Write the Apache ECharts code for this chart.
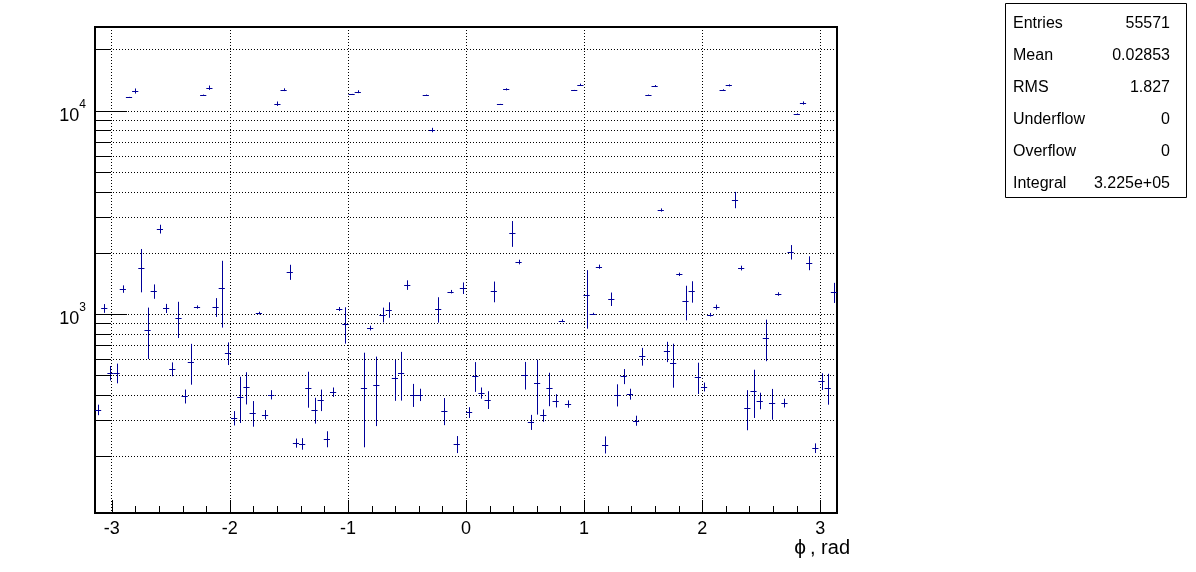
<!DOCTYPE html>
<html><head><meta charset="utf-8">
<script src="https://cdn.jsdelivr.net/npm/echarts@6/dist/echarts.min.js"></script>
<style>html,body{margin:0;padding:0;background:#fff}#c{width:1196px;height:572px}</style>
</head><body><div id="c"></div><script>
// Histogram: 120 bins over [-pi, pi]
const N_BINS = 120;
const PHI_MIN = -Math.PI, PHI_MAX = Math.PI;
const Y_MIN = 105, Y_MAX = 25800;

const counts = [
  338, 1066, 513, 513, 1327, 11630, 12500, 1683, 838, 1293, 2618, 1066,
  536, 955, 394, 581, 1082, 11940, 12975, 1082, 1342, 643, 308, 391,
  438, 326, 1011, 320, 401, 10825, 12685, 1609, 232, 230, 433, 338,
  379, 243, 413, 1058, 897, 12030, 12400, 433, 853, 449, 992, 1050,
  484, 513, 1389, 401, 401, 11940, 8035, 1058, 335, 1288, 229, 1342,
  328, 497, 409, 379, 1293, 10740, 12735, 2502, 1802, 503, 294, 458,
  317, 433, 375, 927, 361, 12590, 13430, 1245, 1004, 1709, 228, 1185,
  401, 494, 404, 299, 619, 11940, 13220, 3247, 655, 574, 1567, 1154,
  1293, 490, 438, 992, 1082, 12685, 13320, 3650, 1683, 345, 420, 375,
  762, 365, 1254, 365, 2018, 9630, 10906, 1782, 219, 467, 433, 1278
];
const errors = [
  20, 53, 42, 57, 56, 60, 360, 405, 237, 105, 130, 55,
  42, 193, 31, 132, 20, 60, 320, 115, 485, 82, 25, 100,
  79, 47, 15, 17, 21, 270, 200, 137, 12, 15, 87, 49,
  46, 22, 22, 24, 182, 60, 200, 212, 23, 168, 83, 92,
  110, 138, 75, 52, 28, 60, 200, 151, 51, 25, 22, 88,
  20, 83, 26, 38, 151, 60, 150, 363, 47, 78, 25, 138,
  22, 81, 28, 15, 15, 60, 150, 398, 10, 40, 22, 90,
  50, 42, 25, 17, 62, 60, 150, 60, 75, 140, 30, 223,
  156, 86, 22, 20, 30, 60, 150, 336, 45, 77, 112, 35,
  176, 63, 25, 18, 165, 60, 200, 140, 12, 44, 75, 145
];

const xMajorTicks = [-3, -2, -1, 0, 1, 2, 3];
const xMinorTicks = [-2.8, -2.6, -2.4, -2.2, -1.8, -1.6, -1.4, -1.2, -0.8, -0.6, -0.4, -0.2,
  0.2, 0.4, 0.6, 0.8, 1.2, 1.4, 1.6, 1.8, 2.2, 2.4, 2.6, 2.8];
const yMajorTicks = [1000, 10000];
const yMinorTicks = [200, 300, 400, 500, 600, 700, 800, 900, 2000, 3000, 4000, 5000, 6000, 7000, 8000, 9000, 20000];

const statsRows = [
  ['Entries', '55571'],
  ['Mean', '0.02853'],
  ['RMS', '1.827'],
  ['Underflow', '0'],
  ['Overflow', '0'],
  ['Integral', '3.225e+05']
];
const xTitleSymbol = 'ϕ';
const xTitleRest = ', rad';

const FONT = '"Liberation Sans", Arial, Helvetica, sans-serif';
const HCOLOR = '#000099';
const binW = (PHI_MAX - PHI_MIN) / N_BINS;
const histData = counts.map((c, i) => [PHI_MIN + (i + 0.5) * binW, c, errors[i]]);
const px = v => Math.round(v) + 0.5;

const chart = echarts.init(document.getElementById('c'), null, {renderer: 'canvas'});

const gridValues = yMajorTicks.concat(yMinorTicks);

chart.setOption({
  animation: false,
  backgroundColor: '#fff',
  grid: {left: 95, top: 27, right: 359, bottom: 59, show: true, borderColor: '#000', borderWidth: 2, backgroundColor: 'transparent'},
  xAxis: {
    type: 'value', min: PHI_MIN, max: PHI_MAX, minInterval: 1, maxInterval: 1,
    axisLine: {show: false}, axisTick: {show: false},
    splitLine: {show: true, lineStyle: {color: '#000', width: 1, type: [1, 2]}},
    axisLabel: {
      color: '#000', fontFamily: FONT, fontSize: 18, margin: 7,
      formatter: v => (Math.abs(v - Math.round(v)) < 1e-6 ? String(Math.round(v)) : '')
    }
  },
  yAxis: {
    type: 'log', logBase: 10, min: Y_MIN, max: Y_MAX,
    axisLine: {show: false}, axisTick: {show: false}, splitLine: {show: false},
    axisLabel: {
      color: '#000', fontFamily: FONT, margin: 9,
      formatter: v => {
        const l = Math.log10(v), e = Math.round(l);
        if (Math.abs(l - e) > 1e-6 || yMajorTicks.indexOf(Math.pow(10, e)) < 0) return '';
        return '{b|10}{s|' + e + '}';
      },
      rich: {
        b: {fontSize: 18, fontFamily: FONT, color: '#000', padding: [10, 0, 0, 0]},
        s: {fontSize: 12, fontFamily: FONT, color: '#000', padding: [0, 0, 12, 0]}
      }
    }
  },
  graphic: [
    {type: 'rect', left: 1005, top: 3, shape: {width: 181, height: 194}, style: {fill: '#fff', stroke: '#000', lineWidth: 1}, z: 10},
    ...statsRows.map((r, i) => ({type: 'text', left: 1013, top: 16 + i * 32, style: {text: r[0], font: '16px ' + FONT, fill: '#000'}, z: 11})),
    ...statsRows.map((r, i) => ({type: 'text', right: 1196 - 1170, top: 16 + i * 32, style: {text: r[1], font: '16px ' + FONT, fill: '#000', textAlign: 'right'}, z: 11})),
    {type: 'text', right: 1196 - 850, top: 538, style: {
      text: '{p|' + xTitleSymbol + '}{t|' + xTitleRest + '}',
      rich: {
        p: {fontSize: 21, fontFamily: FONT, fill: '#000', padding: [0, 4, 0, 0]},
        t: {fontSize: 20, fontFamily: FONT, fill: '#000'}
      }
    }, z: 11}
  ],
  series: [
    {
      type: 'custom', name: 'ygrid', silent: true, z: 1,
      data: gridValues.map(v => [PHI_MIN, v]),
      renderItem: (params, api) => {
        const v = api.value(1);
        const a = api.coord([PHI_MIN, v]), b = api.coord([PHI_MAX, v]);
        return {type: 'line', shape: {x1: a[0], y1: px(a[1]), x2: b[0], y2: px(a[1])},
          style: {stroke: '#000', lineWidth: 1, lineDash: [1, 2]}};
      }
    },
    {
      // all axis tick marks (ROOT style, inside the frame), drawn as one group
      type: 'custom', name: 'ticks', silent: true, z: 6, clip: false,
      data: [[0, 1000]],
      renderItem: (params, api) => {
        const cs = params.coordSys;
        const bottom = cs.y + cs.height;
        const children = [];
        const yTick = (v, len) => {
          const a = api.coord([PHI_MIN, v]);
          children.push({type: 'line', shape: {x1: a[0], y1: px(a[1]), x2: a[0] + len, y2: px(a[1])}, style: {stroke: '#000', lineWidth: 1}});
        };
        const xTick = (v, len) => {
          const a = api.coord([v, 1000]);
          const x = px(a[0]);
          children.push({type: 'line', shape: {x1: x, y1: bottom - 1, x2: x, y2: bottom - 1 - len}, style: {stroke: '#000', lineWidth: 1}});
        };
        yMajorTicks.forEach(v => yTick(v, 32));
        yMinorTicks.forEach(v => yTick(v, 16));
        xMajorTicks.forEach(v => xTick(v, 12));
        xMinorTicks.forEach(v => xTick(v, 6));
        return {type: 'group', children};
      }
    },
    {
      type: 'custom', name: 'hist', z: 5, clip: true,
      data: histData,
      renderItem: (params, api) => {
        const x = api.value(0), y = api.value(1), e = api.value(2);
        const l = api.coord([x - binW / 2, y]), r = api.coord([x + binW / 2, y]);
        const t = api.coord([x, y + e]), b = api.coord([x, Math.max(y - e, 1)]);
        const cx = px(t[0]), cy = px(l[1]);
        return {type: 'group', children: [
          {type: 'line', shape: {x1: l[0], y1: cy, x2: r[0], y2: cy}, style: {stroke: HCOLOR, lineWidth: 1}},
          {type: 'line', shape: {x1: cx, y1: t[1], x2: cx, y2: b[1]}, style: {stroke: HCOLOR, lineWidth: 1}}
        ]};
      }
    }
  ]
});
</script></body></html>
